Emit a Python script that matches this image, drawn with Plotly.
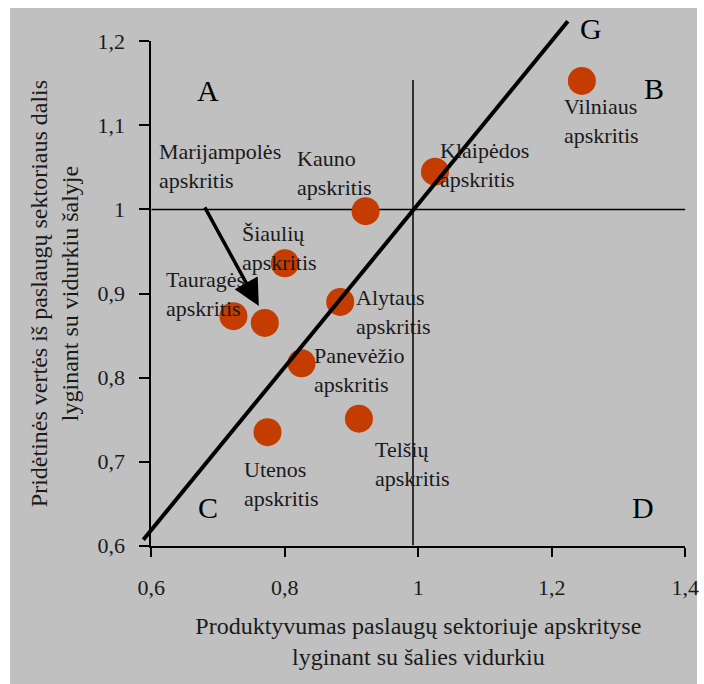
import plotly.graph_objects as go

# counties: productivity vs. value-added share (relative to national average)
regions = ["Vilniaus", "Klaipėdos", "Kauno", "Šiaulių", "Tauragės",
           "Marijampolės", "Alytaus", "Panevėžio", "Utenos", "Telšių"]
productivity = [1.245, 1.025, 0.921, 0.800, 0.723, 0.770, 0.883, 0.825, 0.774, 0.911]
value_added = [1.153, 1.045, 0.998, 0.936, 0.873, 0.865, 0.890, 0.817, 0.735, 0.751]

# G line
trend_x = [0.588, 1.224]
trend_y = [0.607, 1.224]

# average cross lines
avg_vline_x = [0.992, 0.992]
avg_vline_y = [0.6, 1.154]
avg_hline_x = [0.6, 1.4]
avg_hline_y = [1.0, 1.0]

x_ticks = [0.6, 0.8, 1.0, 1.2, 1.4]
y_ticks = [0.6, 0.7, 0.8, 0.9, 1.0, 1.1, 1.2]

quadrants = ["A", "B", "C", "D", "G"]
quad_x = [0.685, 1.353, 0.685, 1.337, 1.259]
quad_y = [1.142, 1.144, 0.645, 0.645, 1.215]

# label offsets in pixels (left edge dx, block centre dy downward)
label_dx = [-20, 3, -71, -45, -69, -108, 14, 10, -25, 14]
label_dy = [40, -7, -38, -15, -22, -157, 10, 7, 52, 45]

X0, X1 = 0.58, 1.41
Y0, Y1 = 0.59, 1.235
FONT = "Liberation Serif"
TEXT = "#1a1a1a"

fig = go.Figure()

fig.add_trace(go.Scatter(x=avg_vline_x, y=avg_vline_y, mode="lines",
                         line=dict(color="black", width=1.5), hoverinfo="skip", showlegend=False))
fig.add_trace(go.Scatter(x=avg_hline_x, y=avg_hline_y, mode="lines",
                         line=dict(color="black", width=1.5), hoverinfo="skip", showlegend=False))

fig.add_trace(go.Scatter(
    x=productivity, y=value_added, mode="markers",
    marker=dict(size=28, color="#C43C00", line=dict(width=0)),
    text=regions, hovertemplate="%{text}<br>%{x}, %{y}<extra></extra>",
    showlegend=False, cliponaxis=False,
))

# G line on an overlay subplot with extended range (same scale)
fig.add_trace(go.Scatter(x=trend_x, y=trend_y, mode="lines", xaxis="x2", yaxis="y2",
                         line=dict(color="black", width=4), hoverinfo="skip", showlegend=False))

annotations = []
for name, px, py, dx, dy in zip(regions, productivity, value_added, label_dx, label_dy):
    annotations.append(dict(
        x=px, y=py, xref="x", yref="y", text=name + "<br>apskritis",
        showarrow=False, xanchor="left", yanchor="middle", align="left",
        xshift=dx, yshift=-dy, font=dict(family=FONT, size=22, color=TEXT),
    ))

# arrow to Marijampolės
mi = regions.index("Marijampolės")
annotations.append(dict(
    x=productivity[mi], y=value_added[mi], xref="x", yref="y", text=" ",
    showarrow=True, ax=-57, ay=-104, xshift=-6, yshift=17,
    arrowhead=2, arrowsize=1.5, arrowwidth=3.5, arrowcolor="black",
))

for q, qx, qy in zip(quadrants, quad_x, quad_y):
    annotations.append(dict(
        x=qx, y=qy, xref="x2", yref="y2", text=q, showarrow=False,
        xanchor="center", yanchor="middle", font=dict(family=FONT, size=30, color="black"),
    ))

fig.update_layout(
    width=704, height=684,
    template="none",
    margin=dict(l=138, r=12, t=12, b=130),
    paper_bgcolor="white",
    plot_bgcolor="rgba(0,0,0,0)",
    separators=",.",
    showlegend=False,
    font=dict(family=FONT, color="black"),
    xaxis=dict(
        range=[0.6, 1.4], domain=[(0.6 - X0) / (X1 - X0), (1.4 - X0) / (X1 - X0)],
        anchor="y", tickvals=x_ticks, ticks="outside", ticklen=9, tickwidth=2,
        tickcolor="black", showline=True, linewidth=2, linecolor="black",
        showgrid=False, zeroline=False, automargin=False, ticklabelstandoff=12,
        tickfont=dict(family=FONT, size=22, color=TEXT),
        title=dict(text="Produktyvumas paslaugų sektoriuje apskrityse<br>lyginant su šalies vidurkiu",
                   font=dict(family=FONT, size=24, color=TEXT), standoff=18),
    ),
    yaxis=dict(
        range=[0.6, 1.2], domain=[(0.6 - Y0) / (Y1 - Y0), (1.2 - Y0) / (Y1 - Y0)],
        anchor="x", tickvals=y_ticks, ticks="outside", ticklen=10, tickwidth=2,
        tickcolor="black", showline=True, linewidth=2, linecolor="black",
        showgrid=False, zeroline=False, automargin=False, ticklabelstandoff=10,
        tickfont=dict(family=FONT, size=22, color=TEXT),
        title=dict(text="Pridėtinės vertės iš paslaugų sektoriaus dalis<br>lyginant su vidurkiu šalyje",
                   font=dict(family=FONT, size=24, color=TEXT), standoff=12),
    ),
    xaxis2=dict(range=[X0, X1], domain=[0, 1], anchor="y2", visible=False),
    yaxis2=dict(range=[Y0, Y1], domain=[0, 1], anchor="x2", visible=False),
    annotations=annotations,
    shapes=[dict(type="rect", xref="paper", yref="paper", layer="below",
                 x0=-128 / 554, x1=(554 + 5) / 554, y0=-130 / 542, y1=(542 + 4) / 542,
                 fillcolor="#C0C0C0", line=dict(width=0))],
)

fig.write_html("out.html", config={"displayModeBar": False},
               post_script="document.body.style.margin='0px';")
